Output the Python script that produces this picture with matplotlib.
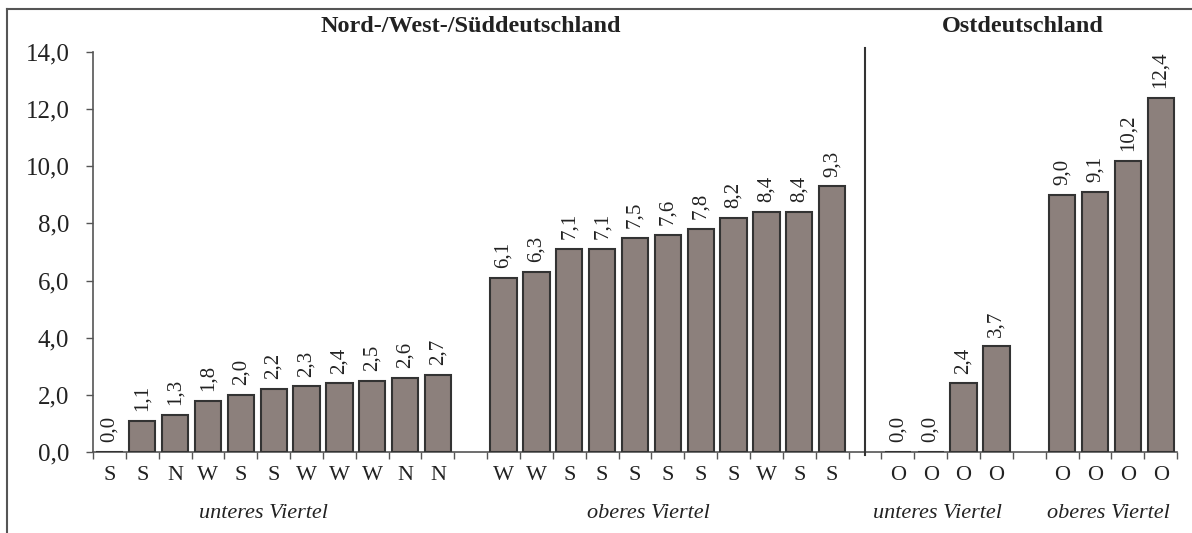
import numpy as np
import matplotlib
matplotlib.use('Agg')
import matplotlib.pyplot as plt
from matplotlib.lines import Line2D
from matplotlib.transforms import blended_transform_factory

plt.rcParams['font.family'] = ['Liberation Serif', 'DejaVu Serif']

# data
west_low_regions = ['S', 'S', 'N', 'W', 'S', 'S', 'W', 'W', 'W', 'N', 'N']
west_low_values = [0.0, 1.1, 1.3, 1.8, 2.0, 2.2, 2.3, 2.4, 2.5, 2.6, 2.7]
west_high_regions = ['W', 'W', 'S', 'S', 'S', 'S', 'S', 'S', 'W', 'S', 'S']
west_high_values = [6.1, 6.3, 7.1, 7.1, 7.5, 7.6, 7.8, 8.2, 8.4, 8.4, 9.3]
east_low_regions = ['O', 'O', 'O', 'O']
east_low_values = [0.0, 0.0, 2.4, 3.7]
east_high_regions = ['O', 'O', 'O', 'O']
east_high_values = [9.0, 9.1, 10.2, 12.4]

group_labels = ['unteres Viertel', 'oberes Viertel', 'unteres Viertel', 'oberes Viertel']
titles = ['Nord-/West-/Süddeutschland', 'Ostdeutschland']
yticks = [0, 2, 4, 6, 8, 10, 12, 14]

bar_color = '#8c807c'
edge_color = '#333333'
axis_color = '#555555'
text_color = '#222222'

# slot positions: groups separated by empty slots, one extra slot for the divider
groups = [
    (west_low_regions, west_low_values, 0),
    (west_high_regions, west_high_values, 12),
    (east_low_regions, east_low_values, 24),
    (east_high_regions, east_high_values, 29),
]
label_shift = [-0.3, -0.6, -0.3, -0.1]
n_slots = 33
divider = 23

fig = plt.figure(figsize=(11.92, 5.33), dpi=100)
ax = fig.add_axes([0.078, 0.152, 0.9095, 0.7505])

trans = blended_transform_factory(ax.transData, ax.transAxes)
group_centers = []
for regions, values, start in groups:
    x = np.arange(start, start + len(values))
    ax.bar(x, values, width=0.8, color=bar_color, edgecolor=edge_color, linewidth=1.5, zorder=3)
    for xi, v, r in zip(x, values, regions):
        ax.annotate(f'{v:.1f}'.replace('.', ','), (xi, v), xytext=(0, 7),
                    textcoords='offset points', rotation=90, ha='center', va='bottom',
                    fontsize=15, color=text_color)
        ax.text(xi, -0.06, r, transform=trans, ha='center', va='center',
                fontsize=16, color=text_color)
    group_centers.append(x.mean())

for label, cx, dx in zip(group_labels, group_centers, label_shift):
    ax.text(cx + dx, -0.155, label, transform=trans, ha='center', va='center',
            fontsize=16, style='italic', color=text_color)

ax.text((0 + 22) / 2, 1.0625, titles[0], transform=trans, ha='center', va='center',
        fontsize=17.5, fontweight='bold', color=text_color)
ax.text((24 + 32) / 2 - 0.2, 1.0625, titles[1], transform=trans, ha='center', va='center',
        fontsize=17.5, fontweight='bold', color=text_color)

# divider between west and east
ax.plot([divider, divider], [-0.1, 14.15], color='#333333', linewidth=1.5,
        clip_on=False, zorder=4)

ax.set_xlim(-0.5, n_slots - 0.5)
ax.set_ylim(0, 14)
ax.set_xticks(np.arange(n_slots + 1) - 0.5)
ax.set_xticklabels([])
ax.set_yticks(yticks)
ax.set_yticklabels([f'{t:.1f}'.replace('.', ',') for t in yticks], fontsize=18, color=text_color)
ax.tick_params(axis='x', direction='out', length=5, width=1, color=axis_color)
ax.tick_params(axis='y', direction='out', length=5, width=1, color=axis_color, pad=12)

for side in ['top', 'right']:
    ax.spines[side].set_visible(False)
for side in ['left', 'bottom']:
    ax.spines[side].set_color(axis_color)
    ax.spines[side].set_linewidth(1.2)

# outer frame (top and left edges visible)
fig.add_artist(Line2D([0.006, 0.006], [0, 0.983], transform=fig.transFigure,
                      color=axis_color, linewidth=1.5))
fig.add_artist(Line2D([0.006, 1.0], [0.983, 0.983], transform=fig.transFigure,
                      color=axis_color, linewidth=1.5))

fig.savefig('out.png', dpi=100)
